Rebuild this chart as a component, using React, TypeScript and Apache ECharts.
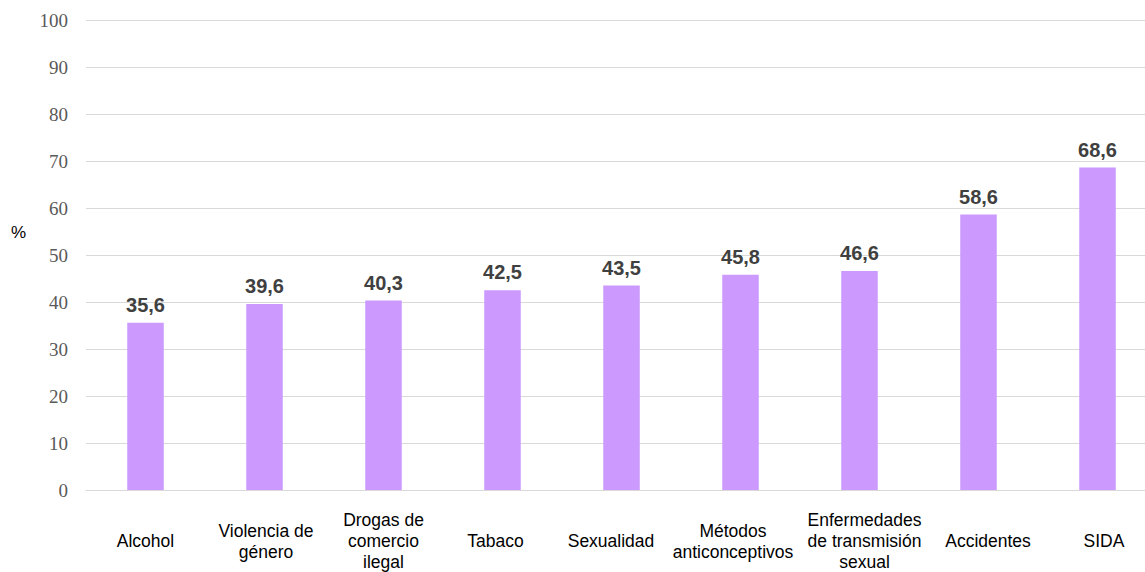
import React, { useEffect, useRef } from "react";
import * as echarts from "echarts";

const categories = [
  "Alcohol",
  "Violencia de\ngénero",
  "Drogas de\ncomercio\nilegal",
  "Tabaco",
  "Sexualidad",
  "Métodos\nanticonceptivos",
  "Enfermedades\nde transmisión\nsexual",
  "Accidentes",
  "SIDA",
];
const values = [35.6, 39.6, 40.3, 42.5, 43.5, 45.8, 46.6, 58.6, 68.6];
const yMin = 0;
const yMax = 100;
const yStep = 10;
const yAxisTitle = "%";
// horizontal nudge of each category label (layout only), in px
const labelNudge = [0, 1.5, 0, -7, -10.5, -7.5, 5, 9.5, 6.5];

export default function App() {
  const ref = useRef<HTMLDivElement>(null);
  useEffect(() => {
    if (!ref.current) return;
    const chart = echarts.init(ref.current, null, { renderer: "svg" });
    const labelFont = {
      fontFamily: "'Liberation Sans', Arial, sans-serif",
      fontSize: 17.5,
      lineHeight: 21,
      color: "#000000",
      verticalAlign: "middle",
      align: "center",
    };
    const catData = categories.map((c, i) => {
      const d = labelNudge[i];
      return {
        value: c,
        textStyle: {
          ...labelFont,
          padding: d >= 0 ? [0, 0, 0, 2 * d] : [0, -2 * d, 0, 0],
        },
      };
    });
    chart.setOption({
      animation: false,
      backgroundColor: "#ffffff",
      grid: {
        left: 86,
        right: 0,
        top: 20,
        bottom: 82,
        containLabel: false,
        outerBoundsMode: "none",
      },
      xAxis: {
        type: "category",
        data: catData,
        axisLine: { show: true, lineStyle: { color: "#d9d9d9", width: 1 } },
        axisTick: { show: false },
        axisLabel: {
          interval: 0,
          margin: 51,
          ...labelFont,
        },
      },
      yAxis: {
        type: "value",
        min: yMin,
        max: yMax,
        interval: yStep,
        axisLine: { show: false },
        axisTick: { show: false },
        splitLine: { show: true, lineStyle: { color: "#d9d9d9", width: 1 } },
        axisLabel: {
          margin: 18,
          fontFamily: "'Liberation Serif', 'Times New Roman', serif",
          fontSize: 19,
          color: "#595959",
        },
      },
      graphic: [
        {
          type: "text",
          left: 11,
          top: 224,
          style: {
            text: yAxisTitle,
            fontFamily: "'Liberation Sans', Arial, sans-serif",
            fontSize: 17,
            fill: "#000000",
          },
        },
      ],
      series: [
        {
          type: "bar",
          data: values,
          barWidth: 36.5,
          itemStyle: { color: "#CC99FF" },
          label: {
            show: true,
            position: "top",
            distance: 8,
            fontFamily: "'Liberation Sans', Arial, sans-serif",
            fontWeight: "bold",
            fontSize: 20,
            color: "#404040",
            formatter: (p: any) => String(p.value.toFixed(1)).replace(".", ","),
          },
        },
      ],
    });
    return () => chart.dispose();
  }, []);
  return (
    <div
      style={{
        position: "fixed",
        left: 0,
        top: 0,
        width: 1145,
        height: 572,
        overflow: "hidden",
        background: "#ffffff",
      }}
    >
      <div ref={ref} style={{ width: 1157, height: 572 }} />
    </div>
  );
}
